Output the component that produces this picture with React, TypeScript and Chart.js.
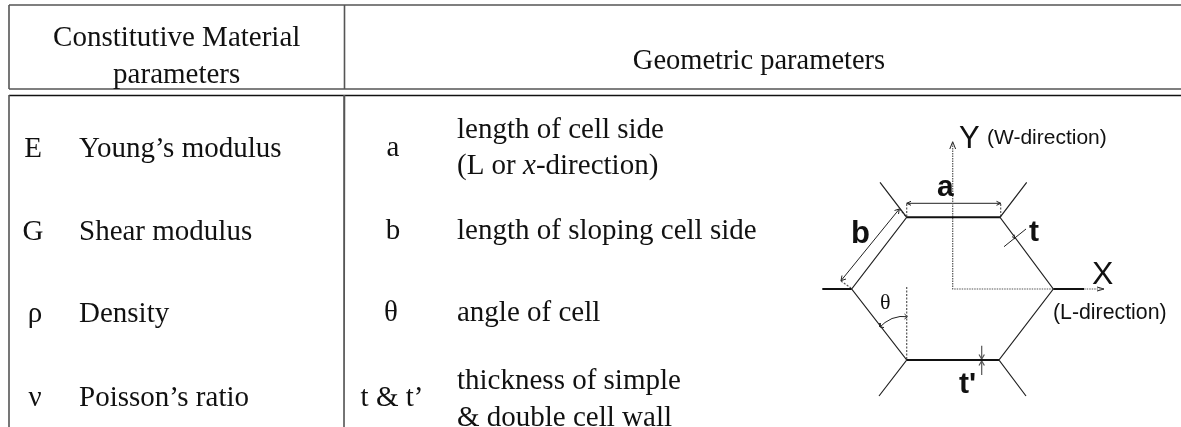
import React, { useEffect, useRef } from "react";
import { Chart, registerables } from "chart.js";

Chart.register(...registerables);

type Pt = [number, number];
type Run = { t: string; f: string };

const SERIF = '"Liberation Serif"';
const SANS = '"Liberation Sans"';
const BODY = `29px ${SERIF}`;
const BODY_I = `italic 29px ${SERIF}`;

const tableGrey: Pt[][] = [
  [[9, 5], [1181, 5]],
  [[9, 89], [1181, 89]],
  [[9, 5], [9, 89]],
  [[344.5, 5], [344.5, 89]],
  [[9, 95], [9, 427]],
  [[344.5, 95], [344, 427]],
];
const tableBlack: Pt[][] = [[[9, 95.5], [1181, 95.5]]];

const thinWalls: Pt[][] = [
  [[880, 182.3], [906.7, 217.3], [851.7, 289], [906.7, 360], [879, 396]],
  [[1026.7, 182.3], [1000, 217.3], [1053.3, 289], [999, 360], [1026, 396]],
];
const doubleWalls: Pt[][] = [
  [[906.7, 217.3], [1000, 217.3]],
  [[906.7, 360], [999, 360]],
  [[822.3, 289], [851.7, 289]],
  [[1053.3, 289], [1084, 289]],
];
const axisDots: Pt[][] = [
  [[952.7, 143], [952.7, 289], [1103, 289]],
];
const helperDots: Pt[][] = [
  [[906.7, 204], [906.7, 217]],
  [[1000.7, 204], [1000.7, 217]],
  [[906.7, 287], [906.7, 360]],
  [[841, 281], [851, 288]],
  [[899.5, 209], [906.5, 217]],
];
const dimLines: Pt[][] = [
  [[906.7, 203.3], [1000.7, 203.3]],
  [[841, 280.7], [899.3, 209]],
  [[1004, 246.7], [1026, 229]],
  [[907.3, 316.7], [900, 316.5], [892, 318.5], [885, 322.5], [880, 327]],
  [[911, 201.3], [906.7, 203.3], [911, 205.3]],
  [[996.5, 201.3], [1000.7, 203.3], [996.5, 205.3]],
  [[846, 279], [841, 280.7], [842, 275.5]],
  [[894.5, 210.5], [899.3, 209], [898.5, 214]],
  [[904.5, 314], [907.3, 316.7], [904.5, 319]],
  [[880, 323], [880, 327], [884, 327.5]],
  [[949.8, 149], [952.7, 141.7], [955.6, 149]],
  [[1097, 287], [1104, 289], [1097, 291]],
  [[1012, 236.5], [1015, 239], [1014, 234.5]],
];
const greyDims: Pt[][] = [
  [[981.7, 345.7], [981.7, 358]],
  [[981.7, 362], [981.7, 375]],
  [[979, 354.5], [981.7, 359], [984.4, 354.5]],
  [[979, 365.5], [981.7, 361], [984.4, 365.5]],
];

const labels: { x: number; y: number; align: "left" | "center"; runs: Run[] }[] = [
  { x: 176.7, y: 46, align: "center", runs: [{ t: "Constitutive Material", f: BODY }] },
  { x: 176.7, y: 83, align: "center", runs: [{ t: "parameters", f: BODY }] },
  { x: 759, y: 68.5, align: "center", runs: [{ t: "Geometric parameters", f: `28.5px ${SERIF}` }] },
  { x: 33, y: 157, align: "center", runs: [{ t: "E", f: BODY }] },
  { x: 79, y: 157, align: "left", runs: [{ t: "Young’s modulus", f: BODY }] },
  { x: 33, y: 240, align: "center", runs: [{ t: "G", f: BODY }] },
  { x: 79, y: 240, align: "left", runs: [{ t: "Shear modulus", f: BODY }] },
  { x: 35, y: 322, align: "center", runs: [{ t: "ρ", f: BODY }] },
  { x: 79, y: 322, align: "left", runs: [{ t: "Density", f: BODY }] },
  { x: 35, y: 406, align: "center", runs: [{ t: "ν", f: BODY }] },
  { x: 79, y: 406, align: "left", runs: [{ t: "Poisson’s ratio", f: BODY }] },
  { x: 393, y: 156, align: "center", runs: [{ t: "a", f: BODY }] },
  { x: 457, y: 138, align: "left", runs: [{ t: "length of cell side", f: BODY }] },
  { x: 457, y: 173.5, align: "left", runs: [{ t: "(L or ", f: BODY }, { t: "x", f: BODY_I }, { t: "-direction)", f: BODY }] },
  { x: 393, y: 238.5, align: "center", runs: [{ t: "b", f: BODY }] },
  { x: 457, y: 238.5, align: "left", runs: [{ t: "length of sloping cell side", f: BODY }] },
  { x: 391, y: 320.5, align: "center", runs: [{ t: "θ", f: BODY }] },
  { x: 457, y: 320.5, align: "left", runs: [{ t: "angle of cell", f: BODY }] },
  { x: 392, y: 406, align: "center", runs: [{ t: "t & t’", f: BODY }] },
  { x: 457, y: 389, align: "left", runs: [{ t: "thickness of simple", f: BODY }] },
  { x: 457, y: 426, align: "left", runs: [{ t: "& double cell wall", f: BODY }] },
  { x: 959, y: 148, align: "left", runs: [{ t: "Y", f: `31px ${SANS}` }] },
  { x: 987, y: 144, align: "left", runs: [{ t: "(W-direction)", f: `21px ${SANS}` }] },
  { x: 1092, y: 284, align: "left", runs: [{ t: "X", f: `32px ${SANS}` }] },
  { x: 1053, y: 319, align: "left", runs: [{ t: "(L-direction)", f: `21.3px ${SANS}` }] },
  { x: 937, y: 196, align: "left", runs: [{ t: "a", f: `bold 30px ${SANS}` }] },
  { x: 851, y: 243, align: "left", runs: [{ t: "b", f: `bold 31px ${SANS}` }] },
  { x: 1029, y: 241, align: "left", runs: [{ t: "t", f: `bold 30px ${SANS}` }] },
  { x: 959, y: 393, align: "left", runs: [{ t: "t'", f: `bold 30px ${SANS}` }] },
  { x: 880, y: 309, align: "left", runs: [{ t: "θ", f: `22px ${SERIF}` }] },
];

const textPlugin = {
  id: "cellText",
  afterDatasetsDraw(chart: any) {
    const { ctx, scales } = chart;
    ctx.save();
    ctx.fillStyle = "#111";
    ctx.textBaseline = "alphabetic";
    ctx.textAlign = "left";
    for (const l of labels) {
      let width = 0;
      for (const r of l.runs) {
        ctx.font = r.f;
        width += ctx.measureText(r.t).width;
      }
      let x = scales.x.getPixelForValue(l.x) - (l.align === "center" ? width / 2 : 0);
      const y = scales.y.getPixelForValue(l.y);
      for (const r of l.runs) {
        ctx.font = r.f;
        ctx.fillText(r.t, x, y);
        x += ctx.measureText(r.t).width;
      }
    }
    ctx.restore();
  },
};

const group = (lines: Pt[][], color: string, width: number, dash: number[] = []) =>
  lines.map((line) => ({
    data: line.map(([x, y]) => ({ x, y })),
    showLine: true,
    borderColor: color,
    borderWidth: width,
    borderDash: dash,
    pointRadius: 0,
    tension: 0,
    fill: false,
  }));

export default function App() {
  const ref = useRef<HTMLCanvasElement>(null);
  useEffect(() => {
    const chart = new Chart(ref.current!, {
      type: "scatter",
      data: {
        datasets: [
          ...group(tableGrey, "#555", 1.6),
          ...group(tableBlack, "#111", 1.4),
          ...group(thinWalls, "#222", 1.2),
          ...group(doubleWalls, "#111", 2),
          ...group(axisDots, "#555", 1.2, [1.5, 1]),
          ...group(helperDots, "#555", 1.2, [2, 1.5]),
          ...group(dimLines, "#222", 1),
          ...group(greyDims, "#555", 1.2),
        ],
      } as any,
      options: {
        animation: false,
        responsive: false,
        layout: { padding: 0 },
        plugins: { legend: { display: false }, tooltip: { enabled: false } },
        scales: {
          x: { type: "linear", display: false, min: 0, max: 1181 },
          y: { type: "linear", display: false, min: 0, max: 427, reverse: true },
        },
      },
      plugins: [textPlugin],
    });
    return () => chart.destroy();
  }, []);
  return (
    <canvas
      ref={ref}
      width={1181}
      height={427}
      style={{ position: "fixed", left: 0, top: 0, background: "#fff", filter: "blur(0.3px)" }}
    />
  );
}
